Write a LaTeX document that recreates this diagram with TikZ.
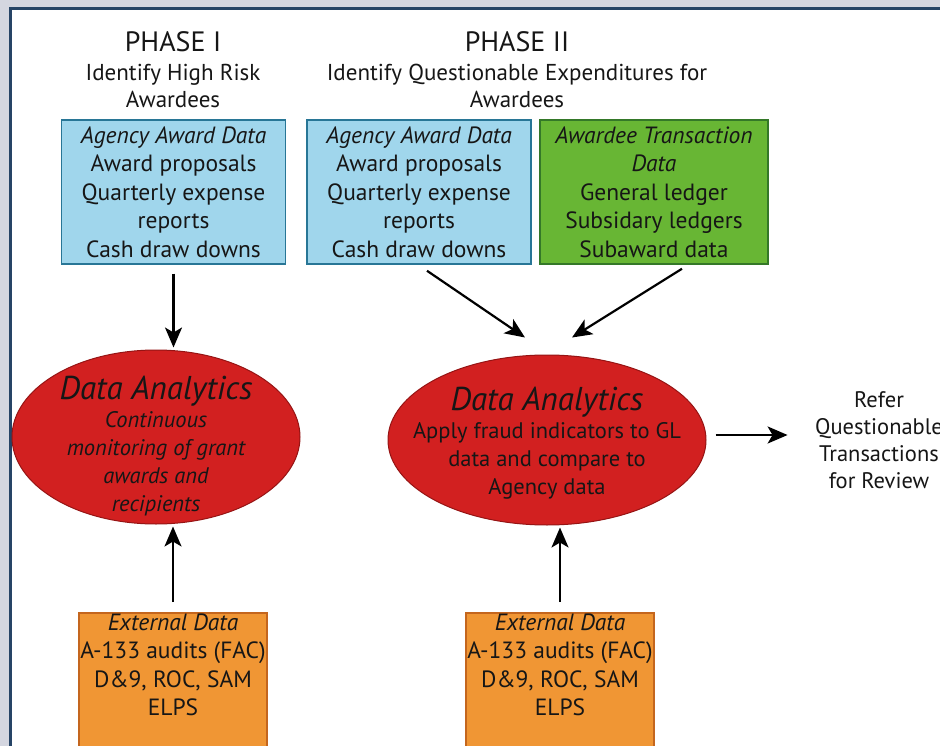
\documentclass[tikz,border=0pt]{standalone}
\usepackage{fontspec}
\setmainfont{PT Sans}
\usetikzlibrary{positioning,shapes.geometric,arrows.meta}

\definecolor{panelbg}{RGB}{212,214,224}
\definecolor{frameblue}{RGB}{38,68,102}
\definecolor{agencyblue}{RGB}{160,214,236}
\definecolor{agencyline}{RGB}{40,118,150}
\definecolor{ledgergreen}{RGB}{104,182,52}
\definecolor{ledgerline}{RGB}{52,120,40}
\definecolor{extorange}{RGB}{240,150,52}
\definecolor{extline}{RGB}{196,102,30}
\definecolor{analyticsred}{RGB}{210,32,32}
\definecolor{analyticsline}{RGB}{150,20,20}
\definecolor{ink}{RGB}{22,22,22}

\begin{document}
\begin{tikzpicture}[
    x=1pt, y=-1pt,
    every node/.style={text=ink},
    phase/.style={align=center,font=\fontsize{28}{30}\selectfont},
    aim/.style={align=center,font=\fontsize{23}{27}\selectfont},
    databox/.style={rectangle,draw,line width=1.5pt,align=center,inner sep=1pt,font=\fontsize{23.5}{28.5}\selectfont},
    agency/.style={databox,fill=agencyblue,draw=agencyline,minimum width=224pt,minimum height=144pt},
    ledger/.style={databox,fill=ledgergreen,draw=ledgerline,minimum width=228pt,minimum height=144pt},
    external/.style={databox,fill=extorange,draw=extline,minimum width=188pt,anchor=north,text depth=60pt},
    analytics/.style={ellipse,draw=analyticsline,line width=1pt,fill=analyticsred,inner sep=0pt},
    analysis/.style={align=center,font=\fontsize{22.5}{28}\selectfont},
    flow/.style={-{Stealth[length=20pt,width=17pt,inset=5pt]},line width=2.2pt}
]
    % Frame
    \useasboundingbox (0,0) rectangle (940,746);
    \fill[panelbg] (0,0) rectangle (940,746);
    \draw[frameblue,line width=3pt,fill=white] (10,9) rectangle (960,770);

    % Headings
    \node[phase] (phase1) at (173,42) {PHASE I};
    \node[aim] (aim1) at (173,86) {Identify High Risk\\Awardees};
    \node[phase] (phase2) at (517,42) {PHASE II};
    \node[aim] (aim2) at (517,86) {Identify Questionable Expenditures for\\Awardees};

    % Data sources
    \node[agency] (agency1) at (173.5,192) {\textit{Agency Award Data}\\Award proposals\\Quarterly expense\\reports\\Cash draw downs};
    \node[agency] (agency2) at (419,192) {\textit{Agency Award Data}\\Award proposals\\Quarterly expense\\reports\\Cash draw downs};
    \node[ledger] (ledger) at (654,192) {\textit{Awardee Transaction}\\\textit{Data}\\General ledger\\Subsidary ledgers\\Subaward data};
    \node[external] (ext1) at (173,612) {\textit{External Data}\\A-133 audits (FAC)\\D\&9, ROC, SAM\\ELPS};
    \node[external] (ext2) at (560,612) {\textit{External Data}\\A-133 audits (FAC)\\D\&9, ROC, SAM\\ELPS};

    % Analytics
    \node[analytics,minimum width=288pt,minimum height=174pt] (monitor) at (156,437) {};
    \node[analysis,font=\fontsize{22.5}{28}\selectfont\itshape] (monitortext) at (156,446)
        {{\fontsize{33}{32}\selectfont Data Analytics}\\Continuous\\monitoring of grant\\awards and\\recipients};
    \node[analytics,minimum width=318pt,minimum height=170pt] (review) at (547,440) {};
    \node[analysis] (reviewtext) at (547,443)
        {{\fontsize{33}{32}\selectfont\itshape Data Analytics}\\Apply fraud indicators to GL\\data and compare to\\Agency data};
    \node[analysis,font=\fontsize{22.5}{27}\selectfont] (refer) at (879,440) {Refer\\Questionable\\Transactions\\for Review};

    % Arrows
    \draw[flow,shorten <=9pt,shorten >=2pt] (agency1.south) -- (agency1.south |- monitor.north);
    \draw[flow,shorten <=10pt,shorten >=2pt] (ext1.north) -- (ext1.north |- monitor.south);
    \draw[flow,shorten <=10pt,shorten >=2pt] (ext2.north) -- (ext2.north |- review.south);
    \draw[flow] ([xshift=8pt,yshift=-6pt]agency2.south) -- ([xshift=-22pt,yshift=17pt]review.north);
    \draw[flow] ([xshift=28pt,yshift=-4pt]ledger.south) -- ([xshift=25pt,yshift=17pt]review.north);
    \draw[flow] ([xshift=9pt,yshift=5pt]review.east) -- ([xshift=-24pt,yshift=5pt]refer.west);
\end{tikzpicture}
\end{document}
